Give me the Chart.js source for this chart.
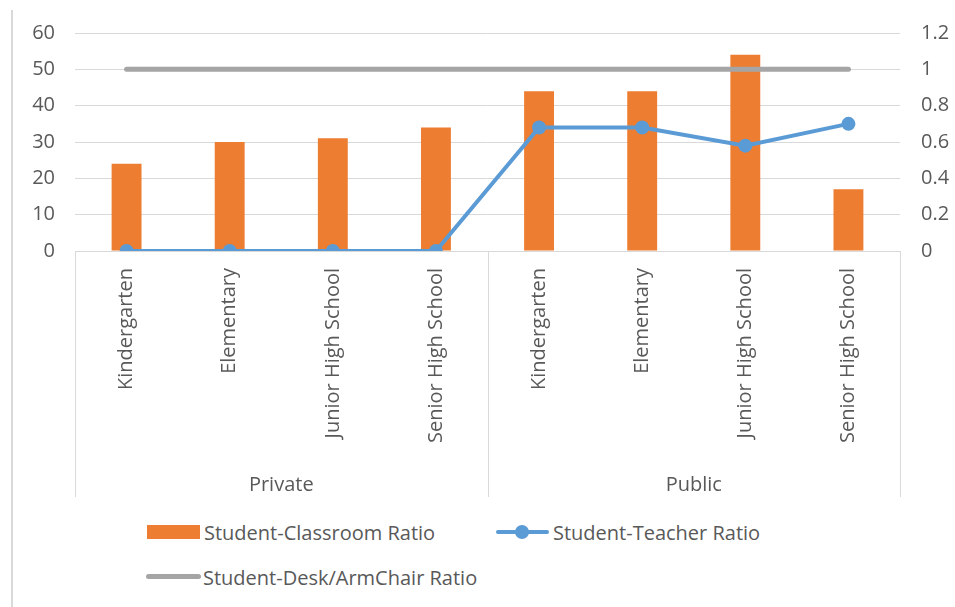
<!DOCTYPE html>
<html>
<head>
<meta charset="utf-8">
<script src="https://cdn.jsdelivr.net/npm/chart.js@4"></script>
<style>
body { margin: 0; background: #fff; }
#wrap { position: relative; width: 955px; height: 607px; overflow: hidden; background: #fff; }
#frame { position: absolute; left: 11px; top: 10px; width: 2px; height: 597px; background: #d9d9d9; }
#chartBox { position: absolute; left: 0; top: 0; width: 955px; height: 500px; }
#legend { position: absolute; left: 0; top: 0; font-family: 'Open Sans'; font-size: 20px; color: #595959; }
.item { position: absolute; display: flex; align-items: center; height: 28px; white-space: nowrap; }
.sym { position: relative; width: 53px; height: 28px; margin-right: 4px; }
</style>
</head>
<body>
<div id="wrap">
  <div id="frame"></div>
  <div id="chartBox"><canvas id="chart"></canvas></div>
  <div id="legend"></div>
</div>
<script>
var categories = ['Kindergarten', 'Elementary', 'Junior High School', 'Senior High School',
                  'Kindergarten', 'Elementary', 'Junior High School', 'Senior High School']
var groups = ['Private', 'Public']
var groupSizes = [4, 4]
var classroomRatio = [24, 30, 31, 34, 44, 44, 54, 17]
var teacherRatio = [0, 0, 0, 0, 0.68, 0.68, 0.58, 0.70]
var deskRatio = [1, 1, 1, 1, 1, 1, 1, 1]
var leftTicks = [0, 10, 20, 30, 40, 50, 60]
var rightTicks = [0, 0.2, 0.4, 0.6, 0.8, 1, 1.2]

var ORANGE = '#ED7D31', BLUE = '#5B9BD5', GRAY = '#A5A5A5', GRID = '#D9D9D9', TEXT = '#595959'

Chart.defaults.font.family = 'Open Sans'
Chart.defaults.font.size = 20
Chart.defaults.color = TEXT

// lines between the groups, below the axis
const groupLines = {
    id: 'groupLines',
    afterDraw(chart) {
        const x = chart.scales.x, x2 = chart.scales.x2, ctx = chart.ctx
        const half = (x.getPixelForValue(1) - x.getPixelForValue(0)) / 2
        const edges = [0]
        let n = 0
        groupSizes.forEach(s => { n += s; edges.push(n) })
        ctx.save()
        ctx.strokeStyle = GRID
        ctx.lineWidth = 1
        edges.forEach(i => {
            const px = Math.round(x.getPixelForValue(i) - half) + 0.5
            ctx.beginPath()
            ctx.moveTo(px, x.top)
            ctx.lineTo(px, x2.bottom)
            ctx.stroke()
        })
        ctx.restore()
    }
}

let ctx = document.getElementById('chart').getContext('2d')

let chart = new Chart(ctx, {
    data: {
        labels: categories,
        datasets: [{
            type: 'line',
            label: 'Student-Teacher Ratio',
            data: teacherRatio,
            yAxisID: 'y1',
            borderColor: BLUE,
            backgroundColor: BLUE,
            borderWidth: 4,
            pointRadius: 7,
            pointBorderWidth: 0,
            pointBackgroundColor: BLUE,
            tension: 0,
            order: 1
        }, {
            type: 'line',
            label: 'Student-Desk/ArmChair Ratio',
            data: deskRatio,
            yAxisID: 'y1',
            borderColor: GRAY,
            backgroundColor: GRAY,
            borderWidth: 5,
            borderCapStyle: 'round',
            pointRadius: 0,
            order: 2
        }, {
            type: 'bar',
            label: 'Student-Classroom Ratio',
            data: classroomRatio,
            yAxisID: 'y',
            backgroundColor: ORANGE,
            barPercentage: 0.29,
            categoryPercentage: 1,
            order: 3
        }]
    },
    options: {
        maintainAspectRatio: false,
        animation: false,
        layout: { padding: { top: 32, left: 0, right: 0, bottom: 3 } },
        plugins: {
            legend: { display: false },
            tooltip: { enabled: false }
        },
        scales: {
            x: {
                grid: { display: false },
                border: { display: true, color: GRID, width: 1 },
                ticks: { autoSkip: false, minRotation: 90, maxRotation: 90, padding: 9 },
                afterFit(scale) { scale.height = 205 }
            },
            x2: {
                type: 'category',
                position: 'bottom',
                labels: groups,
                offset: true,
                grid: { display: false },
                border: { display: false },
                ticks: { padding: 9 },
                afterFit(scale) { scale.height = 41 }
            },
            y: {
                position: 'left',
                min: 0, max: 60,
                afterBuildTicks(scale) { scale.ticks = leftTicks.map(v => ({ value: v })) },
                grid: { color: GRID, drawTicks: false },
                border: { display: false },
                ticks: { padding: 20 },
                afterFit(scale) { scale.width = 75 }
            },
            y1: {
                position: 'right',
                min: 0, max: 1.2,
                afterBuildTicks(scale) { scale.ticks = rightTicks.map(v => ({ value: v })) },
                grid: { display: false, drawTicks: false },
                border: { display: false },
                ticks: { padding: 21, callback: v => String(+v.toFixed(1)) },
                afterFit(scale) { scale.width = 55 }
            }
        }
    },
    plugins: [groupLines]
})

// legend in html so the rows line up on the left like the original
var legendItems = [
    { label: 'Student-Classroom Ratio', kind: 'box', color: ORANGE, left: 147, top: 518 },
    { label: 'Student-Teacher Ratio', kind: 'dot', color: BLUE, left: 496, top: 518 },
    { label: 'Student-Desk/ArmChair Ratio', kind: 'line', color: GRAY, left: 146, top: 563 }
]
var legend = document.getElementById('legend')
legendItems.forEach(it => {
    let sym = ''
    if (it.kind == 'box') {
        sym = '<div style="position:absolute;left:0;top:7px;width:53px;height:14px;background:' + it.color + '"></div>'
    } else if (it.kind == 'dot') {
        sym = '<div style="position:absolute;left:0;top:12px;width:53px;height:4px;background:' + it.color + ';border-radius:2px"></div>' +
              '<div style="position:absolute;left:19px;top:7px;width:14px;height:14px;border-radius:7px;background:' + it.color + '"></div>'
    } else {
        sym = '<div style="position:absolute;left:0;top:11px;width:55px;height:5px;border-radius:3px;background:' + it.color + '"></div>'
    }
    let div = document.createElement('div')
    div.className = 'item'
    div.style.left = it.left + 'px'
    div.style.top = it.top + 'px'
    div.innerHTML = '<div class="sym">' + sym + '</div><span>' + it.label + '</span>'
    legend.appendChild(div)
})
</script>
</body>
</html>
